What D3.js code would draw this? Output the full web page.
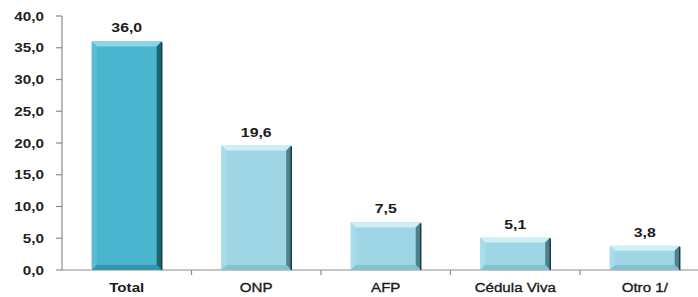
<!DOCTYPE html>
<html><head><meta charset="utf-8">
<script src="https://cdn.jsdelivr.net/npm/d3@7"></script>
<style>body{margin:0;background:#fff}svg{display:block}</style>
</head><body>
<svg id="c" width="698" height="297"></svg>
<script>
const categories = ["Total","ONP","AFP","Cédula Viva","Otro 1/"];
const values = [36.0,19.6,7.5,5.1,3.8];
const yTicks = [0,5,10,15,20,25,30,35,40];

const svg = d3.select("#c");
const x = d3.scaleBand().domain(categories).range([62,709.5]).paddingInner(0.46).paddingOuter(0.23);
const y = d3.scaleLinear().domain([0,40]).range([270,16]);
const fmt = v => v.toFixed(1).replace(".",",");
const SX = 1.22;

// y axis
const ax = svg.append("g").attr("stroke","#8c8c8c").attr("stroke-width",1.2);
ax.append("line").attr("x1",62).attr("x2",62).attr("y1",y(40)).attr("y2",y(0));
yTicks.forEach(t=>{
  ax.append("line").attr("x1",56).attr("x2",62).attr("y1",y(t)).attr("y2",y(t));
});
yTicks.forEach(t=>{
  svg.append("text").attr("transform",`translate(44,${y(t)+4.5}) scale(${SX},1)`)
    .attr("text-anchor","end").attr("font-family","Liberation Sans, Arial, sans-serif")
    .attr("font-weight","bold").attr("font-size",12.5).attr("fill","#222").text(fmt(t));
});
// baseline
ax.append("line").attr("x1",62).attr("x2",698).attr("y1",y(0)).attr("y2",y(0));
// category boundary ticks
const step = x.step();
for(let i=1;i<categories.length;i++){
  const bx = x.range()[0] + i*step;
  ax.append("line").attr("x1",bx).attr("x2",bx).attr("y1",y(0)).attr("y2",y(0)+5);
}

// bars with bevel
const palettes = [
  {face:"#4BB5D0", top:"#8AD5E8", left:"#58BDD6", right:"#1E6374", bottom:"#3794AD"},
  {face:"#9ED6E6", top:"#CFEFF7", left:"#A9DCEA", right:"#4F808B", bottom:"#86C0CF"}
];
categories.forEach((c,i)=>{
  const p = palettes[i===0?0:1];
  const x0 = x(c), x1 = x(c)+x.bandwidth(), y0 = y(values[i]), y1 = y(0);
  const b = 5;
  const g = svg.append("g");
  g.append("rect").attr("x",x0).attr("y",y0).attr("width",x1-x0).attr("height",y1-y0).attr("fill",p.face);
  const poly = (pts,fill)=>g.append("polygon").attr("points",pts.map(q=>q.join(",")).join(" ")).attr("fill",fill);
  poly([[x0,y0],[x1,y0],[x1-b,y0+b],[x0+b,y0+b]],p.top);
  poly([[x0,y0],[x0+b,y0+b],[x0+b,y1-b],[x0,y1]],p.left);
  poly([[x1,y0],[x1,y1],[x1-b,y1-b],[x1-b,y0+b]],p.right);
  poly([[x0,y1],[x0+b,y1-b],[x1-b,y1-b],[x1,y1]],p.bottom);
  g.append("line").attr("x1",x1).attr("x2",x1).attr("y1",y0+1).attr("y2",y1).attr("stroke","#123f4a").attr("stroke-width",1.5);
  // value label
  svg.append("text").attr("transform",`translate(${x(c)+x.bandwidth()/2},${y0-9}) scale(${SX},1)`)
    .attr("text-anchor","middle").attr("font-family","Liberation Sans, Arial, sans-serif")
    .attr("font-weight","bold").attr("font-size",13).attr("fill","#1a1a1a").text(fmt(values[i]));
  // category label
  svg.append("text").attr("transform",`translate(${x(c)+x.bandwidth()/2},${y(0)+22}) scale(1.12,1)`)
    .attr("text-anchor","middle").attr("font-family","Liberation Sans, Arial, sans-serif")
    .attr("font-weight", i===0?"bold":"normal").attr("font-size",13.5).attr("fill","#1a1a1a")
    .attr("stroke", i===0?"none":"#1a1a1a").attr("stroke-width",0.35).text(c);
});
</script>
</body></html>
